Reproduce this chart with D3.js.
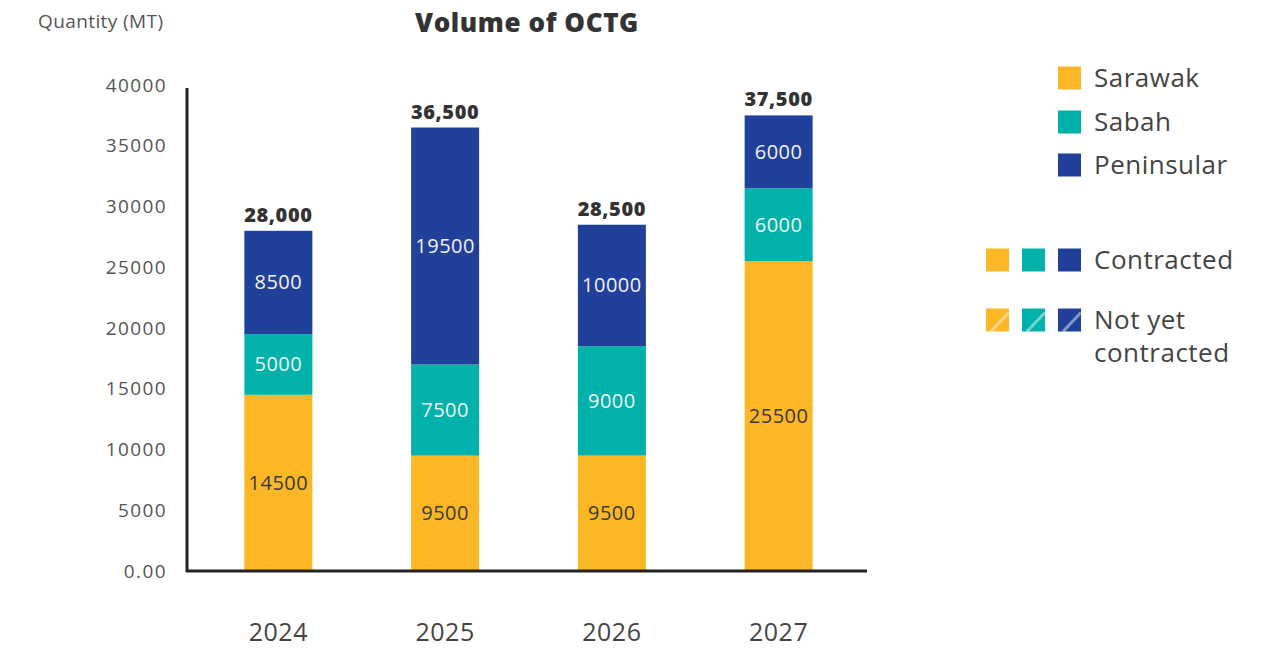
<!DOCTYPE html>
<html>
<head>
<meta charset="utf-8">
<script src="https://cdn.jsdelivr.net/npm/d3@7"></script>
<style>
  body { margin: 0; background: #fff; }
  svg { font-family: "Open Sans", Lato, sans-serif; }
</style>
</head>
<body>
<svg id="chart" width="1275" height="648"></svg>
<script>
// data
const years = ["2024", "2025", "2026", "2027"];
const sarawak = [14500, 9500, 9500, 25500];
const sabah = [5000, 7500, 9000, 6000];
const peninsular = [8500, 19500, 10000, 6000];
const totalLabels = ["28,000", "36,500", "28,500", "37,500"];
const yTicks = [0, 5000, 10000, 15000, 20000, 25000, 30000, 35000, 40000];

const col = { sarawak: "#FBB726", sabah: "#00B2A9", peninsular: "#21409A" };
const seriesKeys = ["sarawak", "sabah", "peninsular"];

const rows = years.map((yr, i) => ({
  year: yr,
  sarawak: sarawak[i],
  sabah: sabah[i],
  peninsular: peninsular[i],
  total: totalLabels[i],
}));

const svg = d3.select("#chart");

const x = d3.scalePoint().domain(years).range([195, 862]).padding(0.5);
const y = d3.scaleLinear().domain([0, 40000]).range([571, 85]);
const barW = 68;

// titles
svg.append("text")
  .attr("x", 527).attr("y", 32)
  .attr("text-anchor", "middle")
  .style("font-size", "26px").style("font-weight", "800")
  .style("letter-spacing", "0.6px")
  .style("fill", "#333")
  .text("Volume of OCTG");

svg.append("text")
  .attr("x", 38).attr("y", 28)
  .style("font-size", "19px")
  .style("letter-spacing", "0.4px")
  .style("fill", "#555")
  .text("Quantity (MT)");

// y tick labels
svg.append("g")
  .selectAll("text")
  .data(yTicks)
  .join("text")
  .attr("x", 167)
  .attr("y", (d) => y(d))
  .attr("dy", "0.35em")
  .attr("text-anchor", "end")
  .style("font-size", "19px")
  .style("letter-spacing", "1.4px")
  .style("fill", "#555")
  .text((d) => (d === 0 ? "0.00" : d));

// stacked bars
const stack = d3.stack().keys(seriesKeys)(rows);

const layers = svg.append("g")
  .selectAll("g")
  .data(stack)
  .join("g")
  .attr("fill", (d) => col[d.key]);

layers.selectAll("rect")
  .data((d) => d)
  .join("rect")
  .attr("x", (d) => x(d.data.year) - barW / 2)
  .attr("y", (d) => y(d[1]))
  .attr("width", barW)
  .attr("height", (d) => y(d[0]) - y(d[1]));

// labels inside segments
stack.forEach((layer) => {
  svg.append("g")
    .selectAll("text")
    .data(layer)
    .join("text")
    .attr("x", (d) => x(d.data.year))
    .attr("y", (d) => y((d[0] + d[1]) / 2))
    .attr("dy", "0.35em")
    .attr("text-anchor", "middle")
    .style("font-size", "20px")
    .style("letter-spacing", "0.5px")
    .style("fill", layer.key === "sarawak" ? "#3a3a3a" : "#f2f2f2")
    .text((d) => d.data[layer.key]);
});

// totals
svg.append("g")
  .selectAll("text")
  .data(rows)
  .join("text")
  .attr("x", (d) => x(d.year))
  .attr("y", (d) => y(d.sarawak + d.sabah + d.peninsular) - 9)
  .attr("text-anchor", "middle")
  .style("font-size", "20px")
  .style("font-weight", "800")
  .style("letter-spacing", "0.6px")
  .style("fill", "#333")
  .text((d) => d.total);

// axis lines
svg.append("line")
  .attr("x1", 187).attr("x2", 187)
  .attr("y1", 88).attr("y2", 572)
  .attr("stroke", "#222").attr("stroke-width", 3);
svg.append("line")
  .attr("x1", 186).attr("x2", 867)
  .attr("y1", 571).attr("y2", 571)
  .attr("stroke", "#222").attr("stroke-width", 3);

// year labels
svg.append("g")
  .selectAll("text")
  .data(years)
  .join("text")
  .attr("x", (d) => x(d))
  .attr("y", 641)
  .attr("text-anchor", "middle")
  .style("font-size", "25px")
  .style("letter-spacing", "0.5px")
  .style("fill", "#444")
  .text((d) => d);

// legend
const legendNames = ["Sarawak", "Sabah", "Peninsular"];
const legendY = [78, 122, 165];
const sq = 23;
const lg = svg.append("g");
const legendFont = (sel) =>
  sel.style("font-size", "26px").style("letter-spacing", "0.5px").style("fill", "#444");
seriesKeys.forEach((k, i) => {
  lg.append("rect")
    .attr("x", 1058).attr("y", legendY[i] - sq / 2)
    .attr("width", sq).attr("height", sq)
    .attr("fill", col[k]);
  lg.append("text")
    .attr("x", 1094).attr("y", legendY[i])
    .attr("dy", "0.35em")
    .call(legendFont)
    .text(legendNames[i]);
});

const swX = [986, 1022, 1058];
seriesKeys.forEach((k, i) => {
  lg.append("rect")
    .attr("x", swX[i]).attr("y", 260 - sq / 2)
    .attr("width", sq).attr("height", sq)
    .attr("fill", col[k]);
  lg.append("rect")
    .attr("x", swX[i]).attr("y", 320 - sq / 2)
    .attr("width", sq).attr("height", sq)
    .attr("fill", col[k]);
  lg.append("line")
    .attr("x1", swX[i] + 5).attr("y1", 320 + sq / 2)
    .attr("x2", swX[i] + sq).attr("y2", 320 - sq / 2 + 4)
    .attr("stroke", "#fff").attr("stroke-opacity", 0.45)
    .attr("stroke-width", 3);
});
lg.append("text")
  .attr("x", 1094).attr("y", 260).attr("dy", "0.35em")
  .call(legendFont)
  .text("Contracted");
lg.append("text")
  .attr("x", 1094).attr("y", 320).attr("dy", "0.35em")
  .call(legendFont)
  .text("Not yet");
lg.append("text")
  .attr("x", 1094).attr("y", 353).attr("dy", "0.35em")
  .call(legendFont)
  .text("contracted");
</script>
</body>
</html>
